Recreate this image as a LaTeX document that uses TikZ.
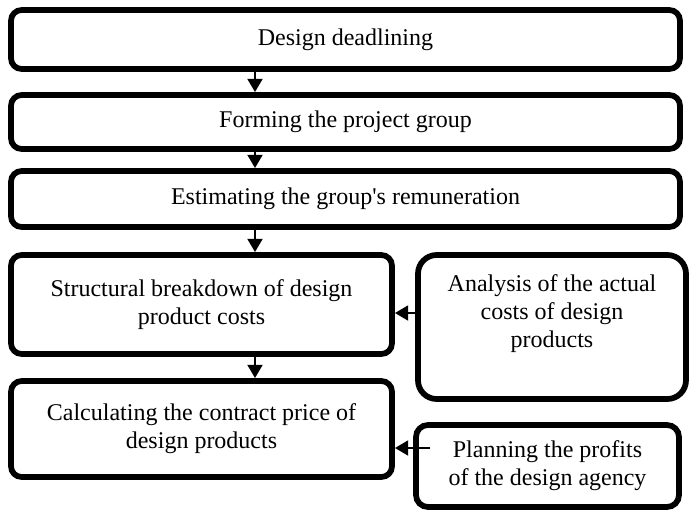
\documentclass[tikz,border=0pt]{standalone}
\usepackage{fontspec}
\setmainfont{Liberation Serif}
\usetikzlibrary{arrows.meta, positioning}

\begin{document}
\begin{tikzpicture}[
    x=0.75pt, y=-0.75pt,
    box/.style={draw, line width=4.3pt, rounded corners=8pt, align=center, fill=white,
        font=\fontsize{18}{21}\selectfont},
    txt/.style={align=center, font=\fontsize{18}{21}\selectfont},
    arrow/.style={-{Triangle[length=10pt, width=11pt]}, line width=2.2pt}
]
\useasboundingbox (0,0) rectangle (690,512);

% --- Main column ---
\node[box, minimum width=501.75pt, minimum height=44.25pt] (deadline) at (345.5, 39.5) {Design deadlining};
\node[box, minimum width=501.75pt, minimum height=40.5pt] (group) at (345.5, 122) {Forming the project group};
\node[box, minimum width=501.75pt, minimum height=42pt] (pay) at (345.5, 199) {Estimating the group\textquotesingle s remuneration};
\node[box, minimum width=285.75pt, minimum height=74.25pt] (breakdown) at (201.5, 304.5) {Structural breakdown of design\\product costs};
\node[box, minimum width=285.75pt, minimum height=72pt] (price) at (201.5, 429) {Calculating the contract price of\\design products};

% --- Side inputs ---
\node[box, rounded corners=14pt, minimum width=201pt, minimum height=108pt] (actual) at (552, 327) {};
\node[txt] (actualtxt) at (552, 314) {Analysis of the actual\\costs of design\\products};
\node[box, rounded corners=9pt, minimum width=197.25pt, minimum height=61.5pt] (profit) at (547.5, 466) {Planning the profits\\of the design agency};

% Arrows
\coordinate (spine) at (255, 0);
\coordinate (costrow) at (0, 313);
\coordinate (profitrow) at (430, 448);
\draw[arrow] (deadline.south -| spine) -- (group.north -| spine);
\draw[arrow] (group.south -| spine) -- (pay.north -| spine);
\draw[arrow] (pay.south -| spine) -- (breakdown.north -| spine);
\draw[arrow] (breakdown.south -| spine) -- (price.north -| spine);
\draw[arrow] (actual.west |- costrow) -- (breakdown.east |- costrow);
\draw[arrow] (profitrow) -- (price.east |- profitrow);

\end{tikzpicture}
\end{document}
